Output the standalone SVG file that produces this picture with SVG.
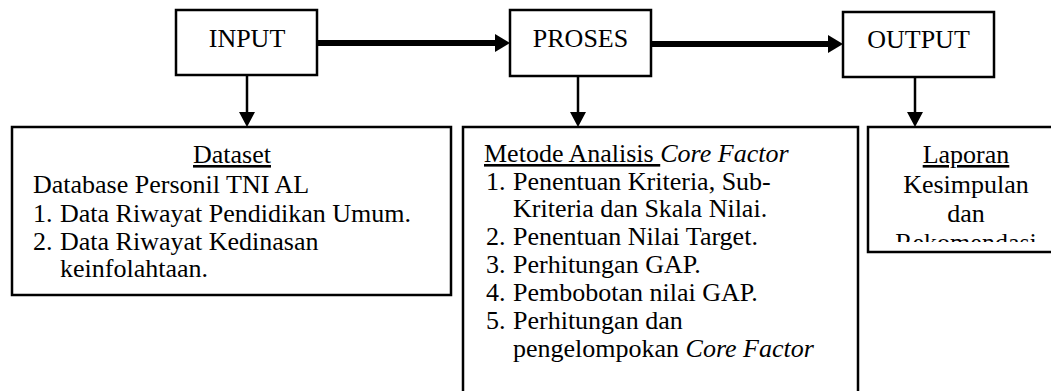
<svg xmlns="http://www.w3.org/2000/svg" width="1051" height="391" viewBox="0 0 1051 391">
<style>
  .box { fill: #ffffff; stroke: #000000; stroke-width: 2.5; }
  .edge { fill: none; stroke: #000000; stroke-width: 2.5; }
  .t { font-family: 'Liberation Serif', 'Times New Roman', Times, serif; font-size: 26px; fill: #000000; }
  .c { text-anchor: middle; }
  .u { text-decoration: underline; }
  .i { font-style: italic; }
  .thick { stroke: #000000; stroke-width: 6; fill: none; }
  .thin { stroke: #000000; stroke-width: 2.5; fill: none; }
</style>
<defs>
  <marker id="headThick" viewBox="0 0 15 18" refX="0" refY="9" markerWidth="15" markerHeight="18" markerUnits="userSpaceOnUse" orient="auto">
    <path d="M0,0 L15,9 L0,18 z" fill="#000000"/>
  </marker>
  <marker id="headThin" viewBox="0 0 15 16" refX="0" refY="8" markerWidth="15" markerHeight="16" markerUnits="userSpaceOnUse" orient="auto">
    <path d="M0,0 L15,8 L0,16 z" fill="#000000"/>
  </marker>
  <clipPath id="clipLaporan">
    <rect x="868" y="127" width="183" height="115"/>
  </clipPath>
</defs>
<rect x="0" y="0" width="1051" height="391" fill="#ffffff"/>

<g id="connectors">
  <line class="thick" x1="317" y1="43" x2="495" y2="43" marker-end="url(#headThick)"/>
  <line class="thick" x1="651" y1="44" x2="828" y2="44" marker-end="url(#headThick)"/>
  <line class="thin" x1="247" y1="75" x2="247" y2="112" marker-end="url(#headThin)"/>
  <line class="thin" x1="578" y1="76" x2="578" y2="112" marker-end="url(#headThin)"/>
  <line class="thin" x1="915" y1="77" x2="915" y2="112" marker-end="url(#headThin)"/>
</g>

<g id="input">
  <rect class="box" x="176" y="10" width="141" height="65"/>
  <text class="t c" x="247" y="47">INPUT</text>
</g>

<g id="proses">
  <rect class="box" x="510" y="10" width="141" height="66"/>
  <text class="t c" x="580.5" y="47">PROSES</text>
</g>

<g id="output">
  <rect class="box" x="843" y="12" width="151" height="65"/>
  <text class="t c" x="918.5" y="48">OUTPUT</text>
</g>

<g id="dataset">
  <rect class="box" x="12" y="127" width="439" height="168"/>
  <text class="t c u" x="232" y="163">Dataset</text>
  <text class="t" x="33" y="193">Database Personil TNI AL</text>
  <text class="t" x="33" y="222">1.</text>
  <text class="t" x="60" y="222">Data Riwayat Pendidikan Umum.</text>
  <text class="t" x="33" y="250">2.</text>
  <text class="t" x="60" y="250">Data Riwayat Kedinasan</text>
  <text class="t" x="60" y="277">keinfolahtaan.</text>
</g>

<g id="metode">
  <path class="edge" d="M463,392 L463,127 L858,127 L858,392"/>
  <text class="t" x="484" y="162"><tspan class="u">Metode Analisis </tspan><tspan class="i">Core Factor</tspan></text>
  <text class="t" x="486" y="190">1.</text>
  <text class="t" x="513" y="190">Penentuan Kriteria, Sub-</text>
  <text class="t" x="513" y="217">Kriteria dan Skala Nilai.</text>
  <text class="t" x="486" y="245">2.</text>
  <text class="t" x="513" y="245">Penentuan Nilai Target.</text>
  <text class="t" x="486" y="273">3.</text>
  <text class="t" x="513" y="273">Perhitungan GAP.</text>
  <text class="t" x="486" y="301">4.</text>
  <text class="t" x="513" y="301">Pembobotan nilai GAP.</text>
  <text class="t" x="486" y="329">5.</text>
  <text class="t" x="513" y="329">Perhitungan dan</text>
  <text class="t" x="513" y="357">pengelompokan <tspan class="i">Core Factor</tspan></text>
</g>

<g id="laporan">
  <path class="edge" d="M1052,127 L868,127 L868,252 L1052,252"/>
  <text class="t c u" x="966" y="163">Laporan</text>
  <text class="t c" x="966" y="193">Kesimpulan</text>
  <text class="t c" x="966" y="222">dan</text>
  <text class="t c" x="966" y="251" clip-path="url(#clipLaporan)">Rekomendasi</text>
</g>
</svg>
